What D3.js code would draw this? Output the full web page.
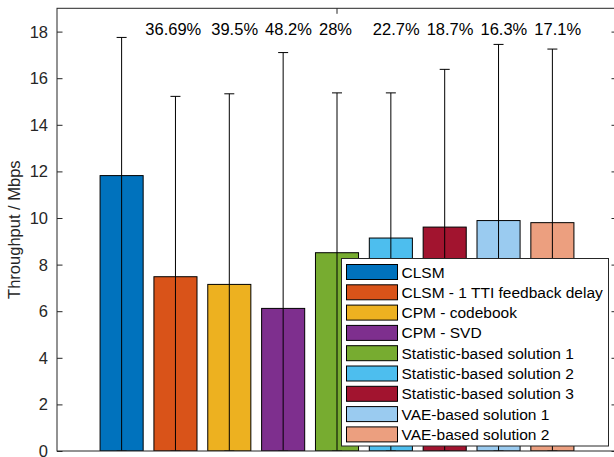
<!DOCTYPE html>
<html>
<head>
<meta charset="utf-8">
<script src="https://cdn.jsdelivr.net/npm/d3@7"></script>
<style>
  body { margin: 0; background: #fff; }
  svg { display: block; }
  text { font-family: "Liberation Sans", Arial, Helvetica, sans-serif; fill: #262626; }
</style>
</head>
<body>
<svg id="chart" width="614" height="457"></svg>
<script>
// Throughput per precoding / feedback scheme
const schemes = [
  "CLSM",
  "CLSM - 1 TTI feedback delay",
  "CPM - codebook",
  "CPM - SVD",
  "Statistic-based solution 1",
  "Statistic-based solution 2",
  "Statistic-based solution 3",
  "VAE-based solution 1",
  "VAE-based solution 2"
];
const throughput = [11.82, 7.48, 7.15, 6.12, 8.51, 9.14, 9.61, 9.89, 9.80];
const errUpper   = [17.75, 15.22, 15.33, 17.10, 15.37, 15.37, 16.38, 17.45, 17.25];
const errLower   = [0, 0, 0, 0, 0, 0, 0, 0, 0];
// Throughput loss relative to CLSM, for schemes 2..9
const lossLabels = ["36.69%", "39.5%", "48.2%", "28%", "22.7%", "18.7%", "16.3%", "17.1%"];
const yTicks = [0, 2, 4, 6, 8, 10, 12, 14, 16, 18];
const colors = ["#0072BD", "#D95319", "#EDB120", "#7E2F8E", "#77AC30",
                "#4DBEEE", "#A2142F", "#9ACBF0", "#EC9F7F"];

const W = 614, H = 457;
const plot = { left: 57, right: 617, top: 8.3, bottom: 451 };
const axisColor = "#262626";

const svg = d3.select("#chart");

const x = d3.scaleBand()
  .domain(schemes)
  .range([plot.left, plot.right])
  .paddingInner(0.2)
  .paddingOuter(0.8);

const y = d3.scaleLinear().domain([0, 19]).range([plot.bottom, plot.top]);

const color = d3.scaleOrdinal().domain(schemes).range(colors);

const rows = schemes.map((s, i) => ({
  name: s, value: throughput[i], hi: errUpper[i], lo: errLower[i]
}));

svg.append("clipPath").attr("id", "plotClip")
  .append("rect")
  .attr("x", plot.left).attr("y", plot.top)
  .attr("width", plot.right - plot.left).attr("height", plot.bottom - plot.top);

const g = svg.append("g").attr("clip-path", "url(#plotClip)");

// bars
g.selectAll("rect.bar").data(rows).join("rect")
  .attr("class", "bar")
  .attr("x", d => x(d.name))
  .attr("y", d => y(d.value))
  .attr("width", x.bandwidth())
  .attr("height", d => y(0) - y(d.value))
  .attr("fill", d => color(d.name))
  .attr("stroke", "#000")
  .attr("stroke-width", 1);

// error bars
const capHalf = 5;
const eb = g.selectAll("g.err").data(rows).join("g").attr("class", "err")
  .attr("stroke", "#000").attr("stroke-width", 1);
eb.append("line")
  .attr("x1", d => x(d.name) + x.bandwidth() / 2)
  .attr("x2", d => x(d.name) + x.bandwidth() / 2)
  .attr("y1", d => y(d.lo)).attr("y2", d => y(d.hi));
eb.append("line")
  .attr("x1", d => x(d.name) + x.bandwidth() / 2 - capHalf)
  .attr("x2", d => x(d.name) + x.bandwidth() / 2 + capHalf)
  .attr("y1", d => y(d.hi)).attr("y2", d => y(d.hi));
eb.append("line")
  .attr("x1", d => x(d.name) + x.bandwidth() / 2 - capHalf)
  .attr("x2", d => x(d.name) + x.bandwidth() / 2 + capHalf)
  .attr("y1", d => y(d.lo)).attr("y2", d => y(d.lo));

// axes box with inward ticks
const tickLen = 5.5;
const leftAxis = d3.axisRight(y).tickValues(yTicks).tickSize(tickLen).tickFormat("");
svg.append("g").attr("transform", `translate(${plot.left},0)`).call(leftAxis)
  .call(a => a.select(".domain").remove())
  .selectAll("line").attr("stroke", axisColor);
const rightAxis = d3.axisLeft(y).tickValues(yTicks).tickSize(tickLen).tickFormat("");
svg.append("g").attr("transform", `translate(${plot.right},0)`).call(rightAxis)
  .call(a => a.select(".domain").remove())
  .selectAll("line").attr("stroke", axisColor);

// single group tick at the centre of the bar group
const groupX = x(schemes[4]) + x.bandwidth() / 2;
svg.append("line").attr("x1", groupX).attr("x2", groupX)
  .attr("y1", plot.top).attr("y2", plot.top + tickLen).attr("stroke", axisColor);

svg.append("rect")
  .attr("x", plot.left).attr("y", plot.top)
  .attr("width", plot.right - plot.left).attr("height", plot.bottom - plot.top)
  .attr("fill", "none").attr("stroke", axisColor).attr("stroke-width", 1);

// y tick labels
svg.append("g").selectAll("text").data(yTicks).join("text")
  .attr("x", plot.left - 9)
  .attr("y", d => y(d))
  .attr("dy", "0.36em")
  .attr("text-anchor", "end")
  .style("font-size", "16.5px")
  .text(d => d);

// y axis title
svg.append("text")
  .attr("transform", `translate(20,${(plot.top + plot.bottom) / 2}) rotate(-90)`)
  .attr("text-anchor", "middle")
  .style("font-size", "16.5px")
  .text("Throughput / Mbps");

// loss annotations above schemes 2..9
svg.append("g").selectAll("text").data(lossLabels).join("text")
  .attr("x", (d, i) => {
    const c = x(schemes[i + 1]) + x.bandwidth() / 2;
    return c - x.step() * (i === 0 ? 0.56 : 0.335);
  })
  .attr("y", y(18) + 3.5)
  .style("font-size", "16.5px")
  .style("fill", "#000")
  .text(d => d);

// legend
const lg = svg.append("g");
const lgBox = { x: 341.5, y: 258.5, w: 267, h: 187.5 };
lg.append("rect")
  .attr("x", lgBox.x).attr("y", lgBox.y).attr("width", lgBox.w).attr("height", lgBox.h)
  .attr("fill", "#fff").attr("stroke", axisColor).attr("stroke-width", 1);
const rowH = 20.3, firstRow = lgBox.y + 13.5;
const item = lg.selectAll("g.item").data(schemes).join("g").attr("class", "item")
  .attr("transform", (d, i) => `translate(0,${firstRow + i * rowH})`);
item.append("rect")
  .attr("x", 346.5).attr("y", -7.5).attr("width", 51).attr("height", 15)
  .attr("fill", d => color(d)).attr("stroke", "#000").attr("stroke-width", 1);
item.append("text")
  .attr("x", 401.5).attr("y", 0).attr("dy", "0.36em")
  .style("font-size", "15.5px")
  .style("fill", "#000")
  .text(d => d);
</script>
</body>
</html>
